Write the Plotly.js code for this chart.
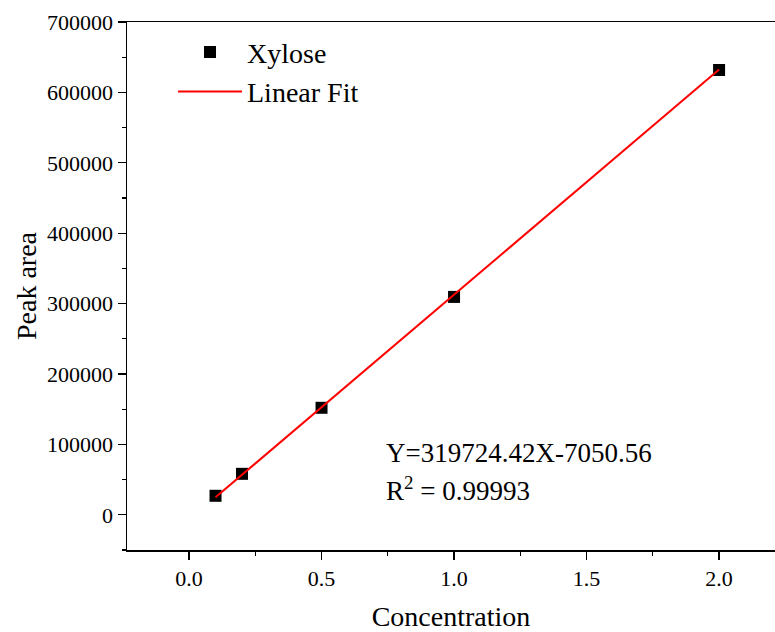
<!DOCTYPE html>
<html>
<head>
<meta charset="utf-8">
<script src="https://cdn.plot.ly/plotly-3.0.1.min.js"></script>
<style>html,body{margin:0;padding:0;background:#fff;}#chart{width:775px;height:632px;}</style>
</head>
<body>
<div id="chart"></div>
<script>
const concentration = [0.1, 0.2, 0.5, 1.0, 2.0];
const peakArea = [27000, 58200, 152000, 309500, 631800];
const fitX = [0.1, 2.0];
const slope = 319724.42;
const intercept = -7050.56;
const fitY = fitX.map(x => slope * x + intercept);
const xTickVals = [0.0, 0.5, 1.0, 1.5, 2.0];
const xTickText = ['0.0', '0.5', '1.0', '1.5', '2.0'];
const yTickVals = [0, 100000, 200000, 300000, 400000, 500000, 600000, 700000];
const yTickText = ['0', '100000', '200000', '300000', '400000', '500000', '600000', '700000'];

const font = '"Liberation Serif", "Times New Roman", serif';

const traces = [
  {x: concentration, y: peakArea, mode: 'markers', type: 'scatter', name: 'Xylose',
   marker: {symbol: 'square', size: 12, color: '#000', line: {width: 0}}},
  {x: fitX, y: fitY, mode: 'lines', type: 'scatter', name: 'Linear Fit',
   line: {color: '#ff0000', width: 2}}
];

const layout = {
  width: 775, height: 632,
  margin: {l: 127, r: 0, t: 22, b: 82},
  paper_bgcolor: '#fff', plot_bgcolor: '#fff',
  font: {family: font, color: '#000', size: 22},
  showlegend: true,
  legend: {x: 0.071, y: 0.99, xanchor: 'left', yanchor: 'top', bgcolor: 'rgba(0,0,0,0)',
           font: {family: font, size: 28, color: '#000'}, itemwidth: 64, tracegroupgap: 0},
  xaxis: {
    range: [-0.234, 2.211], showgrid: false, zeroline: false,
    showline: true, linecolor: '#000', linewidth: 1.5, mirror: true,
    ticks: 'outside', ticklen: 8, tickwidth: 1.2, tickcolor: '#000',
    tickvals: xTickVals, ticktext: xTickText,
    tickfont: {family: font, size: 22, color: '#000'},
    minor: {dtick: 0.25, tick0: 0, ticks: 'outside', ticklen: 4, tickwidth: 1.2, tickcolor: '#000', showgrid: false},
    title: {text: 'Concentration', font: {family: font, size: 28, color: '#000'}, standoff: 16}
  },
  yaxis: {
    range: [-50000, 700000], showgrid: false, zeroline: false,
    showline: true, linecolor: '#000', linewidth: 1.5, mirror: true,
    ticks: 'outside', ticklen: 8, tickwidth: 1.2, tickcolor: '#000',
    tickvals: yTickVals, ticktext: yTickText,
    tickfont: {family: font, size: 22, color: '#000'},
    minor: {dtick: 50000, tick0: 0, ticks: 'outside', ticklen: 4, tickwidth: 1.2, tickcolor: '#000', showgrid: false},
    title: {text: 'Peak area', font: {family: font, size: 28, color: '#000'}, standoff: 2}
  },
  annotations: [
    {xref: 'paper', yref: 'paper', x: (384 - 127) / 648, y: 1 - (453 - 22) / 528, xanchor: 'left', yanchor: 'middle',
     text: 'Y=319724.42X-7050.56', showarrow: false, font: {family: font, size: 27, color: '#000'}},
    {xref: 'paper', yref: 'paper', x: (384 - 127) / 648, y: 1 - (489 - 22) / 528, xanchor: 'left', yanchor: 'middle',
     text: 'R<sup>2</sup> = 0.99993', showarrow: false, font: {family: font, size: 27, color: '#000'}}
  ]
};

Plotly.newPlot('chart', traces, layout, {displayModeBar: false, staticPlot: true});
</script>
</body>
</html>
